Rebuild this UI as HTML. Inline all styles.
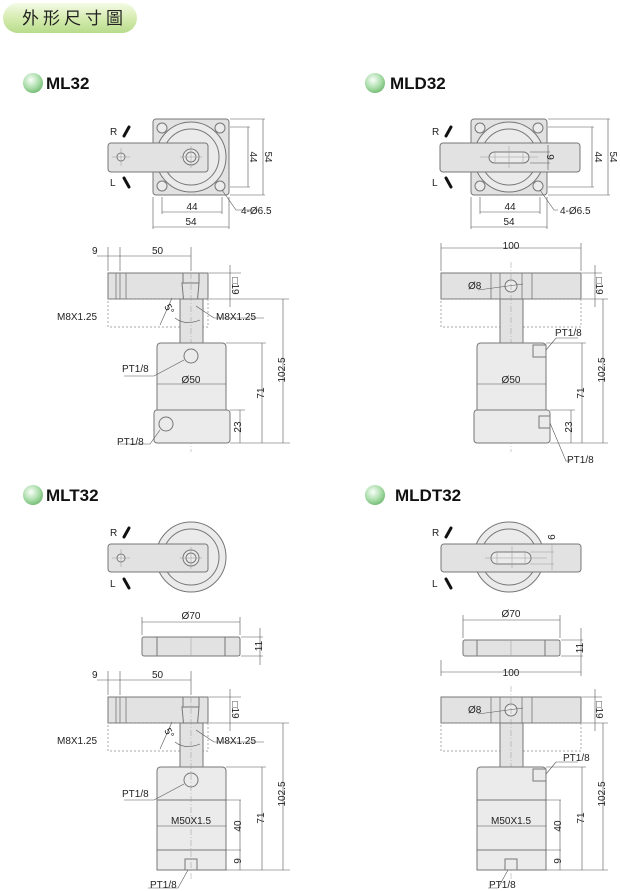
<!DOCTYPE html>
<html><head><meta charset="utf-8"><style>
html,body{margin:0;background:#fff;width:620px;height:891px;overflow:hidden}
svg{display:block}
text{font-family:"Liberation Sans",Arial,sans-serif;fill:#222}
.f{fill:#e2e2e2;stroke:#777;stroke-width:1}
.b{fill:#ebebeb;stroke:#777;stroke-width:1}
.d{stroke:#555;stroke-width:0.6;fill:none}
.c{stroke:#999;stroke-width:0.5;fill:none}
.ds{stroke:#888;stroke-width:0.7;fill:none;stroke-dasharray:2 2}
.t{font-size:10px}
.h{font-size:17px;font-weight:bold;fill:#111}
.k{stroke:#111;stroke-width:3;stroke-linecap:round}
</style></head><body>
<svg width="620" height="891" viewBox="0 0 620 891" xmlns="http://www.w3.org/2000/svg">
<defs>
<linearGradient id="pill" x1="0" y1="0" x2="0" y2="1"><stop offset="0" stop-color="#f4fbe6"/><stop offset="0.5" stop-color="#d6ecb0"/><stop offset="1" stop-color="#b8dc8c"/></linearGradient>
<radialGradient id="ball" cx="0.4" cy="0.35" r="0.7"><stop offset="0" stop-color="#fafffa"/><stop offset="0.6" stop-color="#a8dca8"/><stop offset="1" stop-color="#6fb86f"/></radialGradient>
</defs>
<rect x="3" y="3" width="134" height="30" rx="15" fill="url(#pill)"/>
<text x="22" y="24" style="font-family:'Liberation Sans','Noto Sans CJK TC',sans-serif;font-size:17px;letter-spacing:4px" fill="#111">外形尺寸圖</text>

<circle cx="33" cy="83" r="10" fill="url(#ball)"/><text x="46" y="89" class="h">ML32</text>
<circle cx="375" cy="83" r="10" fill="url(#ball)"/><text x="390" y="89" class="h">MLD32</text>
<circle cx="33" cy="495" r="10" fill="url(#ball)"/><text x="46" y="501" class="h">MLT32</text>
<circle cx="375" cy="495" r="10" fill="url(#ball)"/><text x="395" y="501" class="h">MLDT32</text>

<!-- ML32 top -->
<g>
<rect x="153" y="119" width="76" height="76" rx="3" class="f"/>
<circle cx="191" cy="157" r="35" class="b"/><circle cx="191" cy="157" r="28" class="b"/>
<circle cx="162" cy="128" r="5" class="b"/><circle cx="220" cy="128" r="5" class="b"/><circle cx="162" cy="186" r="5" class="b"/><circle cx="220" cy="186" r="5" class="b"/>
<rect x="108" y="143" width="100" height="29" rx="3" class="f"/>
<circle cx="121" cy="157" r="4" class="b"/><circle cx="191" cy="157" r="8" class="b"/><circle cx="191" cy="157" r="5" class="b"/>
<path d="M112 157h18M121 148v18M180 157h22M191 146v22" class="c"/>
<text x="110" y="135" class="t">R</text><line x1="124" y1="136" x2="129" y2="127" class="k"/>
<text x="110" y="186" class="t">L</text><line x1="124" y1="178" x2="129" y2="187" class="k"/>
<path d="M230 127h20M230 187h20M248 127v60M230 119h35M230 195h35M263 119v76M162 197v17M222 197v17M153 197v32M229 197v32M162 212h60M153 227h76M222 190l14 20h22" class="d"/>
<text x="250" y="157" class="t" transform="rotate(90 250 157)" text-anchor="middle">44</text>
<text x="265" y="157" class="t" transform="rotate(90 265 157)" text-anchor="middle">54</text>
<text x="192" y="210" class="t" text-anchor="middle">44</text><text x="191" y="225" class="t" text-anchor="middle">54</text>
<text x="241" y="214" class="t">4-Ø6.5</text>
</g>

<!-- ML32 side -->
<g id="mls">
<rect x="108" y="273" width="100" height="26" class="f"/>
<rect x="108" y="299" width="100" height="28" class="ds"/>
<path d="M116 273v26M120 273v26M126 273v26" stroke="#777" stroke-width="0.8"/>
<rect x="183" y="273" width="16" height="10" class="f"/>
<path d="M182 283h17l-2 22h-13z" class="f"/>
<rect x="180" y="299" width="23" height="44" class="f"/>
<path d="M108 247v24M120 247v24M191 247v24M97 256h11M108 256h83M209 273h32M209 299h80M230 265v42M160 325l12-27M196 306l18 12h50M175 318q10 8 25 2" class="d"/>
<text x="92" y="254" class="t">9</text><text x="152" y="254" class="t">50</text>
<text x="232" y="286" class="t" transform="rotate(90 232 286)" text-anchor="middle">□19</text>
<text x="57" y="320" class="t">M8X1.25</text><text x="216" y="320" class="t">M8X1.25</text>
<text x="162" y="310" class="t" transform="rotate(60 166 310)">5°</text>
</g>
<path d="M191 262v190" class="c" stroke-dasharray="6 2 1 2"/>
<path d="M161 343h61q4 0 4 4v63h-69v-63q0-4 4-4z" class="b"/>
<rect x="154" y="410" width="76" height="33" rx="3" class="b"/>
<circle cx="191" cy="356" r="7" class="b"/><circle cx="166" cy="424" r="7" class="b"/>
<path d="M157 384h69M226 343h40M230 410h15M230 443h60M262 343v100M240 410v33M283 299v144M184 360l-30 16h-30M160 430l-10 14h-30" class="d"/>
<text x="191" y="383" class="t" text-anchor="middle">Ø50</text>
<text x="122" y="372" class="t">PT1/8</text><text x="117" y="445" class="t">PT1/8</text>
<text x="285" y="370" class="t" transform="rotate(-90 285 370)" text-anchor="middle">102.5</text>
<text x="264" y="393" class="t" transform="rotate(-90 264 393)" text-anchor="middle">71</text>
<text x="241" y="427" class="t" transform="rotate(-90 241 427)" text-anchor="middle">23</text>

<!-- MLD32 top -->
<rect x="471" y="119" width="76" height="76" rx="3" class="f"/>
<circle cx="509" cy="157" r="35" class="b"/><circle cx="509" cy="157" r="28" class="b"/>
<circle cx="480" cy="128" r="5" class="b"/><circle cx="538" cy="128" r="5" class="b"/><circle cx="480" cy="186" r="5" class="b"/><circle cx="538" cy="186" r="5" class="b"/>
<rect x="440" y="143" width="140" height="29" rx="3" class="f"/>
<rect x="489" y="152" width="40" height="11" rx="5.5" class="b"/>
<path d="M480 157h58M509 146v22M495 152v11M523 152v11" class="c"/>
<text x="432" y="135" class="t">R</text><line x1="446" y1="136" x2="451" y2="127" class="k"/>
<text x="432" y="186" class="t">L</text><line x1="446" y1="178" x2="451" y2="187" class="k"/>
<path d="M548 127h46M548 187h46M592 127v60M548 119h62M548 195h62M608 119v76M530 152h20M530 163h20M548 145v25M480 197v17M540 197v17M471 197v32M547 197v32M480 212h60M471 227h76M540 190l14 20h4" class="d"/>
<text x="547" y="157" class="t" transform="rotate(90 547 157)" text-anchor="middle">9</text>
<text x="595" y="157" class="t" transform="rotate(90 595 157)" text-anchor="middle">44</text>
<text x="610" y="157" class="t" transform="rotate(90 610 157)" text-anchor="middle">54</text>
<text x="510" y="210" class="t" text-anchor="middle">44</text><text x="509" y="225" class="t" text-anchor="middle">54</text>
<text x="560" y="214" class="t">4-Ø6.5</text>

<!-- MLD32 side -->
<rect x="441" y="273" width="140" height="26" class="f"/>
<rect x="441" y="299" width="140" height="28" class="ds"/>
<path d="M491 273v26M500 273v26M522 273v26M532 273v26" stroke="#777" stroke-width="0.8"/>
<rect x="500" y="299" width="23" height="44" class="f"/>
<circle cx="511" cy="286" r="6" class="b"/>
<path d="M511 262v190" class="c" stroke-dasharray="6 2 1 2"/>
<path d="M481 343h61q4 0 4 4v63h-69v-63q0-4 4-4z" class="b"/>
<rect x="474" y="410" width="76" height="33" rx="3" class="b"/>
<rect x="533" y="345" width="13" height="12" class="b"/><rect x="539" y="416" width="11" height="12" class="b"/>
<path d="M441 243v28M581 243v28M441 248h140M582 273h20M582 299h26M595 265v42M477 384h69M546 343h40M550 410h25M550 443h58M582 343v100M571 410v33M603 299v144M478 290l45-6M546 350l10-12h22M550 423l16 38h4" class="d"/>
<text x="511" y="249" class="t" text-anchor="middle">100</text>
<text x="468" y="289" class="t">Ø8</text>
<text x="596" y="286" class="t" transform="rotate(90 596 286)" text-anchor="middle">□19</text>
<text x="511" y="383" class="t" text-anchor="middle">Ø50</text>
<text x="555" y="336" class="t">PT1/8</text><text x="567" y="463" class="t">PT1/8</text>
<text x="605" y="370" class="t" transform="rotate(-90 605 370)" text-anchor="middle">102.5</text>
<text x="584" y="393" class="t" transform="rotate(-90 584 393)" text-anchor="middle">71</text>
<text x="572" y="427" class="t" transform="rotate(-90 572 427)" text-anchor="middle">23</text>

<!-- MLT32 top -->
<circle cx="191" cy="557" r="35" class="b"/><circle cx="191" cy="557" r="28" class="b"/>
<rect x="108" y="544" width="100" height="28" rx="3" class="f"/>
<circle cx="121" cy="558" r="4" class="b"/><circle cx="191" cy="558" r="8" class="b"/><circle cx="191" cy="558" r="5" class="b"/>
<path d="M112 558h18M121 549v18M180 558h22M191 547v22" class="c"/>
<text x="110" y="536" class="t">R</text><line x1="124" y1="537" x2="129" y2="528" class="k"/>
<text x="110" y="587" class="t">L</text><line x1="124" y1="579" x2="129" y2="588" class="k"/>
<rect x="142" y="637" width="98" height="19" rx="2" class="f"/>
<path d="M157 637v19M225 637v19" stroke="#777"/><path d="M191 637v19" class="c"/>
<path d="M142 617v18M240 617v18M142 622h98M241 637h22M241 656h22M260 628v37" class="d"/>
<text x="191" y="619" class="t" text-anchor="middle">Ø70</text>
<text x="262" y="646" class="t" transform="rotate(-90 262 646)" text-anchor="middle">11</text>

<!-- MLT32 side -->
<g transform="translate(0,424)"><use href="#mls"/></g>
<path d="M161 767h61q4 0 4 4v99h-69v-99q0-4 4-4z" class="b"/>
<rect x="157" y="800" width="69" height="50" class="b"/>
<circle cx="191" cy="780" r="7" class="b"/>
<rect x="185" y="859" width="12" height="11" class="b"/>
<path d="M191 686v195" class="c" stroke-dasharray="6 2 1 2"/>
<path d="M157 826h69M226 767h40M226 800h15M226 850h15M226 870h64M262 767v103M240 800v70M283 723v147M184 784l-30 16h-30M188 870l-10 18h-30" class="d"/>
<text x="191" y="824" class="t" text-anchor="middle">M50X1.5</text>
<text x="122" y="797" class="t">PT1/8</text><text x="150" y="888" class="t">PT1/8</text>
<text x="285" y="794" class="t" transform="rotate(-90 285 794)" text-anchor="middle">102.5</text>
<text x="264" y="818" class="t" transform="rotate(-90 264 818)" text-anchor="middle">71</text>
<text x="241" y="826" class="t" transform="rotate(-90 241 826)" text-anchor="middle">40</text>
<text x="241" y="861" class="t" transform="rotate(-90 241 861)" text-anchor="middle">9</text>

<!-- MLDT32 top -->
<circle cx="509" cy="557" r="35" class="b"/><circle cx="509" cy="557" r="28" class="b"/>
<rect x="441" y="544" width="140" height="28" rx="3" class="f"/>
<rect x="491" y="552" width="40" height="12" rx="6" class="b"/>
<path d="M485 558h62M512 546v22M497 552v12M525 552v12M530 552h24M530 564h24M552 544v26" class="c"/>
<text x="548" y="537" class="t" transform="rotate(90 548 537)" text-anchor="middle">9</text>
<text x="432" y="536" class="t">R</text><line x1="446" y1="537" x2="451" y2="528" class="k"/>
<text x="432" y="587" class="t">L</text><line x1="446" y1="579" x2="451" y2="588" class="k"/>
<rect x="463" y="640" width="97" height="16" rx="2" class="f"/>
<path d="M477 640v16M545 640v16" stroke="#777"/><path d="M511 640v16" class="c"/>
<path d="M463 615v23M560 615v23M463 620h97M561 640h22M561 656h22M581 628v37M441 660v16M581 660v16M441 672h140" class="d"/>
<text x="511" y="617" class="t" text-anchor="middle">Ø70</text>
<text x="583" y="648" class="t" transform="rotate(-90 583 648)" text-anchor="middle">11</text>
<text x="511" y="676" class="t" text-anchor="middle">100</text>

<!-- MLDT32 side -->
<rect x="441" y="697" width="140" height="26" class="f"/>
<rect x="441" y="723" width="140" height="28" class="ds"/>
<path d="M491 697v26M500 697v26M522 697v26M532 697v26" stroke="#777" stroke-width="0.8"/>
<rect x="500" y="723" width="23" height="44" class="f"/>
<circle cx="511" cy="710" r="6" class="b"/>
<path d="M511 686v195" class="c" stroke-dasharray="6 2 1 2"/>
<path d="M481 767h61q4 0 4 4v99h-69v-99q0-4 4-4z" class="b"/>
<rect x="477" y="800" width="69" height="50" class="b"/>
<rect x="533" y="769" width="13" height="12" class="b"/>
<rect x="505" y="859" width="12" height="11" class="b"/>
<path d="M582 697h20M582 723h26M595 689v42M477 826h69M546 767h40M546 800h15M546 850h15M546 870h62M582 767v103M560 800v70M603 723v147M478 714l45-6M546 774l10-12h22M508 870l-10 18h-10" class="d"/>
<text x="468" y="713" class="t">Ø8</text>
<text x="596" y="710" class="t" transform="rotate(90 596 710)" text-anchor="middle">□19</text>
<text x="511" y="824" class="t" text-anchor="middle">M50X1.5</text>
<text x="563" y="761" class="t">PT1/8</text><text x="489" y="888" class="t">PT1/8</text>
<text x="605" y="794" class="t" transform="rotate(-90 605 794)" text-anchor="middle">102.5</text>
<text x="584" y="818" class="t" transform="rotate(-90 584 818)" text-anchor="middle">71</text>
<text x="561" y="826" class="t" transform="rotate(-90 561 826)" text-anchor="middle">40</text>
<text x="561" y="861" class="t" transform="rotate(-90 561 861)" text-anchor="middle">9</text>
</svg>
</body></html>
